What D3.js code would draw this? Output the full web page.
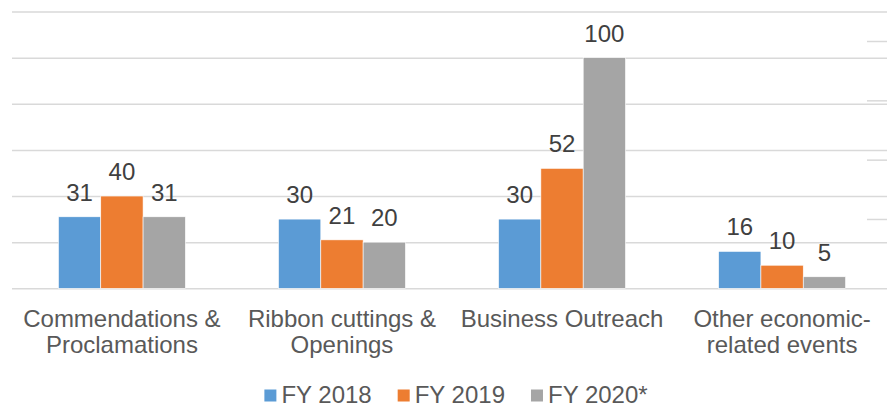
<!DOCTYPE html>
<html>
<head>
<meta charset="utf-8">
<script src="https://cdn.jsdelivr.net/npm/d3@7"></script>
<style>
  body { margin: 0; background: #fff; }
  svg { display: block; font-family: "Liberation Sans", Arial, sans-serif; }
</style>
</head>
<body>
<svg id="svg" width="887" height="407"></svg>
<script>
"use strict";

const categories = ["Commendations & Proclamations", "Ribbon cuttings & Openings", "Business Outreach", "Other economic-related events"];
const categoryLines = [["Commendations &", "Proclamations"], ["Ribbon cuttings &", "Openings"], ["Business Outreach"], ["Other economic-", "related events"]];
const seriesNames = ["FY 2018", "FY 2019", "FY 2020*"];
const fy2018 = [31, 30, 30, 16];
const fy2019 = [40, 21, 52, 10];
const fy2020 = [31, 20, 100, 5];
const gridTicks = [0, 20, 40, 60, 80, 100, 120];
const rightTicks = [1, 2, 3, 4];

const colors = ["#5B9BD5", "#ED7D31", "#A5A5A5"];
const series = [fy2018, fy2019, fy2020];

var svg = d3.select("svg");

var x0 = d3.scaleBand()
    .domain(categories)
    .range([12, 892])
    .paddingInner(0.423)
    .paddingOuter(0.211);

var x1 = d3.scaleBand()
    .domain(seriesNames)
    .range([0, x0.bandwidth()]);

var y = d3.scaleLinear()
    .domain([0, 120])
    .range([288.3, 11.5]);

var y2 = d3.scaleLinear()
    .domain([0, 4])
    .range([278.3, 41]);

// gridlines
svg.append("g")
    .attr("transform", "translate(12,0)")
    .call(d3.axisRight(y).tickValues(gridTicks).tickSize(880).tickFormat(""))
    .call(g => g.select(".domain").remove())
    .call(g => g.selectAll("line").attr("stroke", "#d9d9d9").attr("stroke-width", 1.5));

// stray right ticks
svg.append("g")
    .attr("transform", "translate(887,0)")
    .call(d3.axisLeft(y2).tickValues(rightTicks).tickSize(20).tickFormat(""))
    .call(g => g.select(".domain").remove())
    .call(g => g.selectAll("line").attr("stroke", "#d9d9d9").attr("stroke-width", 1.5));

var rows = categories.map((c, i) => ({
    cat: c,
    values: seriesNames.map((s, j) => ({ name: s, value: series[j][i], color: colors[j] }))
}));

var group = svg.append("g")
    .selectAll("g")
    .data(rows)
    .enter()
    .append("g")
        .attr("transform", d => "translate(" + x0(d.cat) + ",0)");

group.selectAll("rect")
    .data(d => d.values)
    .enter()
    .append("rect")
        .attr("x", d => x1(d.name))
        .attr("y", d => y(d.value))
        .attr("width", x1.bandwidth())
        .attr("height", d => y(0) - y(d.value))
        .attr("fill", d => d.color)
        .attr("stroke", "#fff")
        .attr("stroke-width", 0.6);

group.selectAll("text")
    .data(d => d.values)
    .enter()
    .append("text")
        .attr("x", d => x1(d.name) + x1.bandwidth() / 2)
        .attr("y", d => y(d.value) - 16)
        .attr("text-anchor", "middle")
        .attr("font-size", 24)
        .attr("fill", "#404040")
        .text(d => d.value);

// category labels
var catLabel = svg.append("g")
    .selectAll("text")
    .data(categories)
    .enter()
    .append("text")
        .attr("text-anchor", "middle")
        .attr("font-size", 24)
        .attr("fill", "#595959")
        .attr("transform", d => "translate(" + (x0(d) + x0.bandwidth() / 2) + ",327)");

catLabel.selectAll("tspan")
    .data((d, i) => categoryLines[i])
    .enter()
    .append("tspan")
        .attr("x", 0)
        .attr("y", (d, i) => i * 25.5)
        .text(d => d);

// legend
var legend = svg.append("g");
var item = legend.selectAll("g")
    .data(seriesNames)
    .enter()
    .append("g");

item.append("rect")
    .attr("y", 389.5)
    .attr("width", 12)
    .attr("height", 12)
    .attr("fill", (d, i) => colors[i]);

item.append("text")
    .attr("x", 17)
    .attr("y", 403)
    .attr("font-size", 24)
    .attr("fill", "#595959")
    .text(d => d);

var offset = 0;
var widths = [];
item.each(function() { widths.push(17 + this.querySelector("text").getComputedTextLength()); });
var gap = 26;
var total = d3.sum(widths) + gap * (widths.length - 1);
var start = 456 - total / 2;
item.attr("transform", (d, i) => {
    var tx = start + offset;
    offset += widths[i] + gap;
    return "translate(" + tx + ",0)";
});
</script>
</body>
</html>
